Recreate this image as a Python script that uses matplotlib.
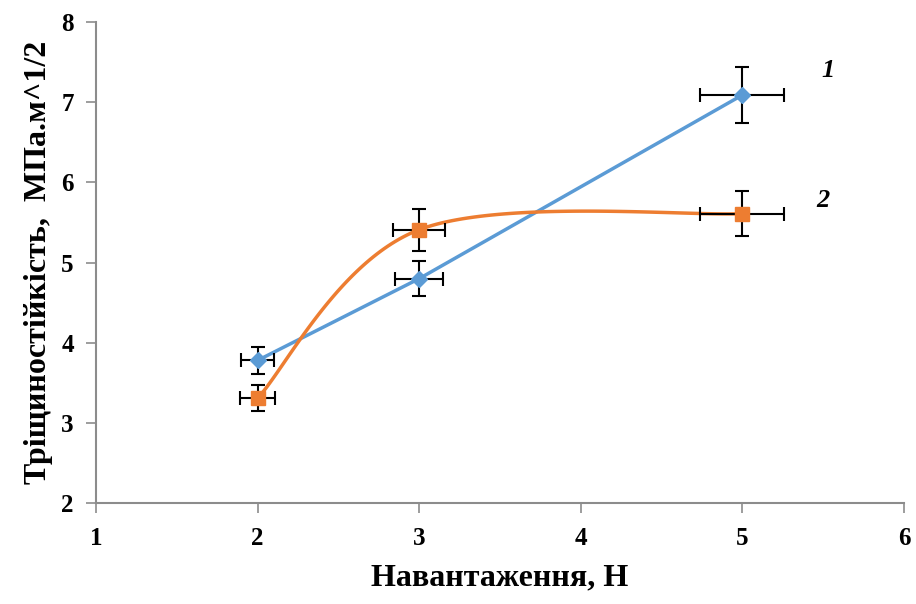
import numpy as np
import matplotlib
matplotlib.use("Agg")
import matplotlib.pyplot as plt

# Data
x1 = [2, 3, 5]
y1 = [3.78, 4.80, 7.09]
xerr1 = [0.10, 0.15, 0.26]
yerr1 = [0.17, 0.22, 0.35]

x2 = [2, 3, 5]
y2 = [3.31, 5.41, 5.61]
xerr2 = [0.11, 0.16, 0.26]
yerr2 = [0.16, 0.26, 0.28]

xticks = [1, 2, 3, 4, 5, 6]
yticks = [2, 3, 4, 5, 6, 7, 8]

blue = "#5B9BD5"
orange = "#ED7D31"
serif = "Liberation Serif"

fig = plt.figure(figsize=(9.16, 6.04), dpi=100)
ax = fig.add_axes([0.1048, 0.167, 0.8822, 0.7966])


def excel_smooth(xs, ys, sx=1.0, sy=1.0, n=60):
    # Bezier smoothing similar to spreadsheet "smoothed line"
    P = np.column_stack([np.asarray(xs, float) * sx, np.asarray(ys, float) * sy])
    out = []
    for i in range(len(P) - 1):
        p0 = P[i - 1] if i > 0 else P[i]
        p1 = P[i]
        p2 = P[i + 1]
        p3 = P[i + 2] if i + 2 < len(P) else P[i + 1]
        c1 = p1 + (p2 - p0) / 6.0
        c2 = p2 - (p3 - p1) / 6.0
        t = np.linspace(0, 1, n)[:, None]
        seg = ((1 - t) ** 3) * p1 + 3 * ((1 - t) ** 2) * t * c1 + 3 * (1 - t) * t ** 2 * c2 + t ** 3 * p2
        out.append(seg if i == 0 else seg[1:])
    S = np.vstack(out)
    return S[:, 0] / sx, S[:, 1] / sy


# series 1 (straight)
ax.plot(x1, y1, color=blue, lw=2.5, zorder=2)
ax.errorbar(x1, y1, xerr=xerr1, yerr=yerr1, fmt="none", ecolor="black",
            elinewidth=1.5, capsize=5, capthick=1.5, zorder=3)
ax.plot(x1, y1, linestyle="none", marker="D", ms=8, color=blue, zorder=4)

# series 2 (smoothed)
sx2, sy2 = excel_smooth(x2, y2, sx=161.6, sy=80.2)
ax.plot(sx2, sy2, color=orange, lw=2.5, zorder=2)
ax.errorbar(x2, y2, xerr=xerr2, yerr=yerr2, fmt="none", ecolor="black",
            elinewidth=1.5, capsize=5, capthick=1.5, zorder=3)
ax.plot(x2, y2, linestyle="none", marker="s", ms=10, color=orange, zorder=4)

ax.text(5.53, 7.4, "1", fontfamily=serif, fontsize=19, fontweight="bold",
        fontstyle="italic", ha="center", va="center")
ax.text(5.5, 5.78, "2", fontfamily=serif, fontsize=19, fontweight="bold",
        fontstyle="italic", ha="center", va="center")

ax.set_xlim(1, 6)
ax.set_ylim(2, 8)
ax.set_xticks(xticks)
ax.set_yticks(yticks)
for s in ["top", "right"]:
    ax.spines[s].set_visible(False)
for s in ["left", "bottom"]:
    ax.spines[s].set_color("#8C8C8C")
    ax.spines[s].set_linewidth(1.5)
ax.tick_params(axis="both", direction="out", color="#8C8C8C", width=1.2, length=7,
               labelsize=18)
ax.tick_params(axis="x", pad=10)
ax.tick_params(axis="y", pad=9)
for lab in ax.get_xticklabels() + ax.get_yticklabels():
    lab.set_fontfamily(serif)
    lab.set_fontweight("bold")

ax.set_xlabel("Навантаження, Н", fontfamily=serif, fontsize=23, fontweight="bold", labelpad=10)
ax.set_ylabel("Тріщиностійкість,  МПа.м^1/2", fontfamily=serif, fontsize=23,
              fontweight="bold", labelpad=6)

fig.savefig("out.png", dpi=100)
